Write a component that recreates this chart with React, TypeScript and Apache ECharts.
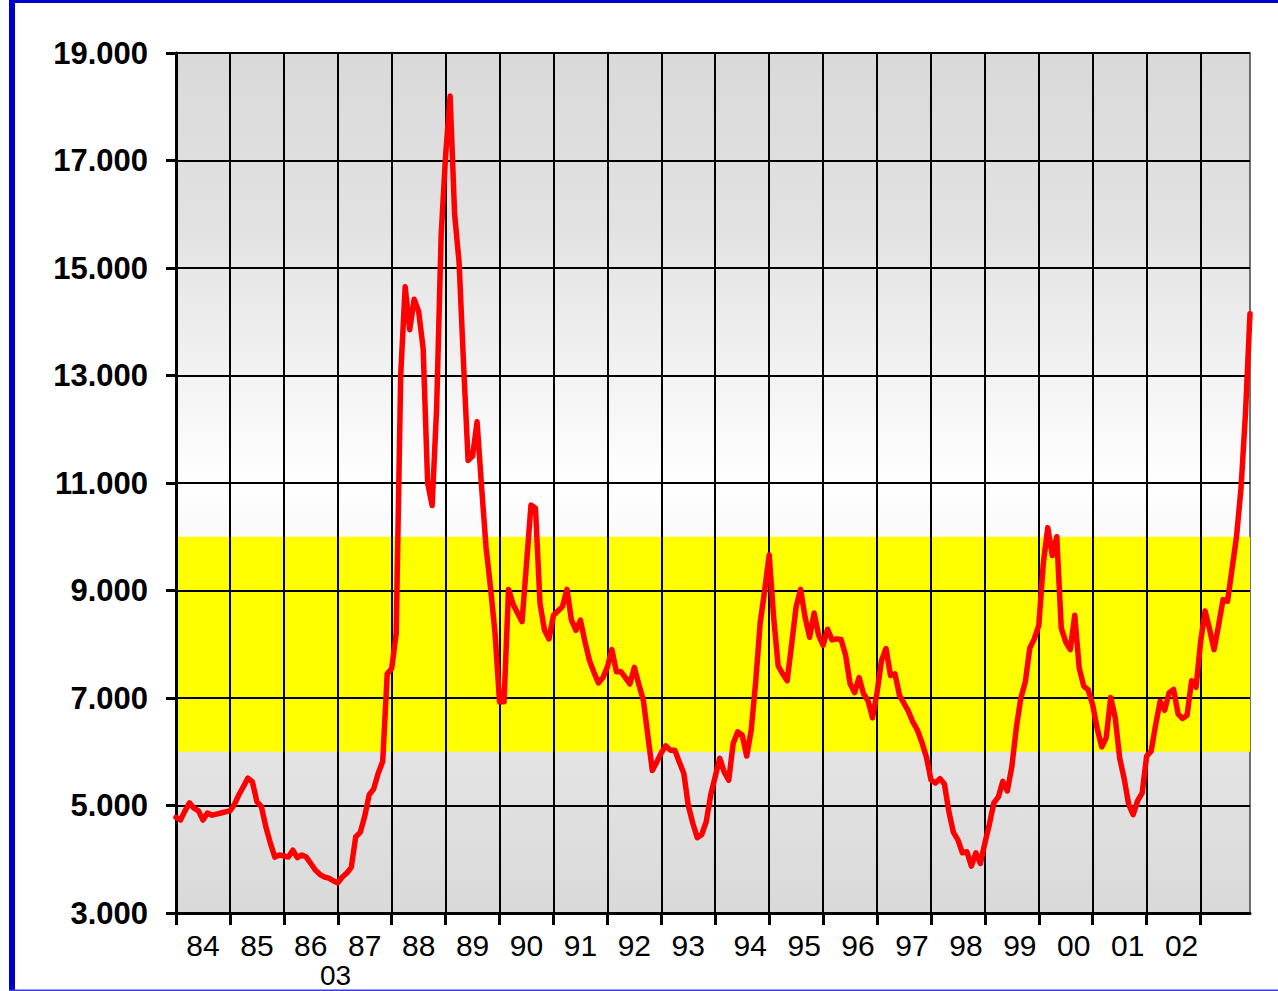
import React, { useEffect, useRef } from "react";
import * as echarts from "echarts";

// Year labels (two digits), one per year of monthly data
const years = ["84","85","86","87","88","89","90","91","92","93","94","95","96","97","98","99","00","01","02","03"];

// Monthly values (thousands), Jan..Dec
const y1984 = [4.78, 4.73, 4.9, 5.05, 4.95, 4.9, 4.73, 4.86, 4.82, 4.84, 4.86, 4.88];
const y1985 = [4.9, 5.02, 5.2, 5.35, 5.51, 5.44, 5.07, 4.98, 4.6, 4.3, 4.04, 4.08];
const y1986 = [4.06, 4.04, 4.17, 4.03, 4.08, 4.04, 3.92, 3.8, 3.72, 3.67, 3.65, 3.6];
const y1987 = [3.56, 3.67, 3.74, 3.85, 4.42, 4.5, 4.8, 5.2, 5.31, 5.6, 5.82, 7.45];
const y1988 = [7.55, 8.2, 13.0, 14.65, 13.85, 14.42, 14.19, 13.5, 11.0, 10.58, 12.4, 15.6];
const y1989 = [17.1, 18.2, 16.0, 15.1, 13.2, 11.42, 11.5, 12.14, 10.93, 9.8, 9.05, 8.2];
const y1990 = [6.93, 6.93, 9.02, 8.75, 8.58, 8.42, 9.5, 10.59, 10.53, 8.76, 8.26, 8.1];
const y1991 = [8.54, 8.62, 8.7, 9.02, 8.45, 8.26, 8.45, 8.05, 7.7, 7.48, 7.28, 7.38];
const y1992 = [7.58, 7.9, 7.49, 7.49, 7.38, 7.26, 7.57, 7.25, 6.96, 6.3, 5.65, 5.81];
const y1993 = [5.98, 6.11, 6.03, 6.03, 5.81, 5.6, 5.0, 4.67, 4.4, 4.46, 4.7, 5.2];
const y1994 = [5.54, 5.88, 5.62, 5.47, 6.16, 6.37, 6.31, 5.92, 6.4, 7.3, 8.4, 9.0];
const y1995 = [9.66, 8.5, 7.6, 7.45, 7.32, 8.0, 8.7, 9.02, 8.5, 8.13, 8.58, 8.17];
const y1996 = [7.98, 8.28, 8.08, 8.1, 8.09, 7.8, 7.27, 7.1, 7.38, 7.08, 6.95, 6.63];
const y1997 = [7.1, 7.7, 7.92, 7.42, 7.45, 7.05, 6.9, 6.75, 6.55, 6.4, 6.17, 5.9];
const y1998 = [5.48, 5.42, 5.5, 5.4, 4.88, 4.5, 4.36, 4.12, 4.14, 3.87, 4.12, 3.92];
const y1999 = [4.3, 4.65, 5.05, 5.16, 5.45, 5.27, 5.72, 6.45, 7.0, 7.3, 7.93, 8.1];
const y2000 = [8.35, 9.5, 10.17, 9.65, 10.0, 8.3, 8.04, 7.9, 8.54, 7.55, 7.22, 7.15];
const y2001 = [6.87, 6.43, 6.09, 6.26, 7.01, 6.64, 5.88, 5.5, 5.02, 4.83, 5.09, 5.23];
const y2002 = [5.92, 6.01, 6.5, 6.94, 6.77, 7.1, 7.16, 6.7, 6.62, 6.68, 7.32, 7.2];
const y2003 = [8.04, 8.62, 8.28, 7.9, 8.35, 8.83, 8.8, 9.4, 10.0, 10.9, 12.3, 14.15];

const yearly = [y1984, y1985, y1986, y1987, y1988, y1989, y1990, y1991, y1992, y1993,
  y1994, y1995, y1996, y1997, y1998, y1999, y2000, y2001, y2002, y2003];

// Y axis range and highlighted band
const yMin = 3;
const yMax = 19;
const yStep = 2;
const bandLow = 6;
const bandHigh = 10;

// Stray label under the axis in the original
const strayLabel = "03";

const FONT = "'Liberation Sans', Arial, Helvetica, sans-serif";

export default function App() {
  const ref = useRef<HTMLDivElement>(null);

  useEffect(() => {
    if (!ref.current) return;
    const chart = echarts.init(ref.current, undefined, { renderer: "svg" });

    const categories: string[] = [];
    const values: number[] = [];
    years.forEach((yy, k) => {
      for (let m = 0; m < 12; m++) {
        categories.push(yy + "/" + String(m + 1).padStart(2, "0"));
        values.push(yearly[k][m]);
      }
    });

    const labelStyle = { fontSize: 30, fontFamily: FONT, color: "#000", fontWeight: "normal" as const };

    chart.setOption({
      animation: false,
      grid: {
        left: 176,
        top: 53,
        width: 1074,
        height: 860,
        show: true,
        borderColor: "#444",
        borderWidth: 1.5,
        backgroundColor: {
          type: "linear",
          x: 0, y: 0, x2: 0, y2: 1,
          colorStops: [
            { offset: 0, color: "#d9d9d9" },
            { offset: 0.2, color: "#e2e2e2" },
            { offset: 0.38, color: "#f3f3f3" },
            { offset: 0.5, color: "#ffffff" },
            { offset: 0.81, color: "#e4e4e4" },
            { offset: 1, color: "#d9d9d9" },
          ],
        },
      },
      xAxis: {
        type: "category",
        data: categories,
        boundaryGap: false,
        z: 2,
        axisLine: { lineStyle: { color: "#000", width: 3 } },
        axisTick: {
          interval: (i: number) => i % 12 === 0,
          length: 12,
          lineStyle: { color: "#000", width: 3 },
        },
        axisLabel: {
          interval: (i: number) => i % 12 === 6 && i < 228,
          margin: 17,
          ...labelStyle,
          formatter: (value: string, index: number) => {
            const yy = value.split("/")[0];
            const k = Math.floor(index / 12);
            return k >= 10 ? `{s|${yy}}` : `{n|${yy}}`;
          },
          rich: {
            n: { ...labelStyle },
            s: { ...labelStyle, padding: [0, 0, 0, 16] },
          },
        },
        splitLine: {
          show: true,
          interval: (i: number) => i % 12 === 0,
          lineStyle: { color: "#000", width: 2 },
        },
      },
      yAxis: {
        type: "value",
        min: yMin,
        max: yMax,
        interval: yStep,
        z: 2,
        axisLine: { show: true, lineStyle: { color: "#000", width: 3 } },
        axisTick: { show: true, length: 10, lineStyle: { color: "#000", width: 3 } },
        axisLabel: {
          margin: 28,
          fontSize: 31,
          fontWeight: "bold",
          fontFamily: FONT,
          color: "#000",
          formatter: (v: number) => v.toFixed(3),
        },
        splitLine: { show: true, lineStyle: { color: "#000", width: 2 } },
      },
      series: [
        {
          type: "line",
          data: values,
          z: 1,
          silent: true,
          symbol: "none",
          lineStyle: { opacity: 0 },
          markArea: {
            silent: true,
            itemStyle: { color: "#ffff00", opacity: 1 },
            data: [[{ yAxis: bandLow }, { yAxis: bandHigh }]],
          },
        },
        {
          type: "line",
          data: values,
          z: 3,
          symbol: "none",
          lineStyle: { color: "#ff0000", width: 5.5, join: "round", cap: "round" },
        },
      ],
      graphic: [
        {
          type: "text",
          left: 320,
          top: 961,
          z: 10,
          style: { text: strayLabel, font: `28px ${FONT}`, fill: "#000" },
        },
        { type: "rect", shape: { x: 9, y: 0, width: 6, height: 991 }, style: { fill: "#0000cc" }, z: 20 },
        { type: "rect", shape: { x: 9, y: 0, width: 1269, height: 3 }, style: { fill: "#0000cc" }, z: 20 },
        { type: "rect", shape: { x: 9, y: 989.5, width: 1269, height: 1.5 }, style: { fill: "#3b3bd8" }, z: 20 },
      ],
    });

    return () => chart.dispose();
  }, []);

  return (
    <div style={{ position: "absolute", left: 0, top: 0, width: 1278, height: 991, background: "#fff" }}>
      <div ref={ref} style={{ width: 1278, height: 991 }} />
    </div>
  );
}
